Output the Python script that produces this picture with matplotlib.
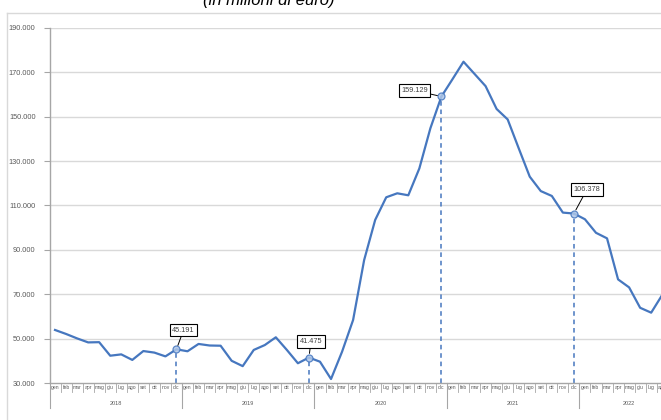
import matplotlib
matplotlib.use("Agg")
import matplotlib.pyplot as plt
import matplotlib.transforms as mtransforms

# monthly values, gen 2018 - set 2022 (millions of euro)
months = ["gen", "feb", "mar", "apr", "mag", "giu", "lug", "ago", "set", "ott", "nov", "dic"]
years = ["2018", "2019", "2020", "2021", "2022"]
values_2018 = [53900, 52100, 50100, 48300, 48400, 42300, 42900, 40400, 44400, 43700, 42000, 45191]
values_2019 = [44300, 47600, 46900, 46800, 40000, 37600, 44900, 47100, 50600, 44900, 38900, 41475]
values_2020 = [39600, 31800, 44100, 58400, 85400, 103500, 113700, 115500, 114600, 126700, 144800, 159129]
values_2021 = [166900, 174800, 169300, 163800, 153500, 148800, 135800, 123000, 116500, 114300, 106800, 106378]
values_2022 = [103800, 97700, 95200, 76700, 73100, 63900, 61700, 69700, 74000]
yticks = [30000, 50000, 70000, 90000, 110000, 130000, 150000, 170000, 190000]

# which points get a callout (index in the series) and box offset in pixels
callout_idx = [11, 23, 35, 47]
callout_offset = [(7, 19), (2, 16), (-27, 6), (13, 24)]

series = values_2018 + values_2019 + values_2020 + values_2021 + values_2022
year_len = [len(values_2018), len(values_2019), len(values_2020), len(values_2021), len(values_2022)]
labels = [months[i % 12] for i in range(len(series))]
xs = [i + 0.5 for i in range(len(series))]

BLUE = "#4677BF"
GRID = "#d9d9d9"
AXIS = "#a6a6a6"
TEXT = "#595959"

plt.rcParams["font.family"] = ["Liberation Sans", "DejaVu Sans"]


def fmt(v):
    return f"{v:,}".replace(",", ".")


fig = plt.figure(figsize=(6.61, 4.2), dpi=100)
W, H = 661, 420

# outer chart border (only left and top visible in the crop)
fig.add_artist(plt.Line2D([7 / W, 7 / W], [0, 1 - 13 / H], color=GRID, lw=1))
fig.add_artist(plt.Line2D([7 / W, 1], [1 - 13 / H, 1 - 13 / H], color=GRID, lw=1))

fig.text(269 / W, 1 - 5 / H, "(in milioni di euro)", ha="center", va="baseline",
         fontsize=12, style="italic", color="black")

ax_left, ax_bottom, ax_top = 49.5, 383, 28
ax_w = len(series) * 11.04
ax = fig.add_axes([ax_left / W, 1 - ax_bottom / H, ax_w / W, (ax_bottom - ax_top) / H])

ax.set_xlim(0, len(series))
ax.set_ylim(30000, 190000)
ax.set_yticks(yticks)
ax.set_yticklabels([fmt(v) for v in yticks])
ax.tick_params(axis="y", length=4, width=0.8, color=AXIS, labelsize=5.3, labelcolor=TEXT, pad=6)
ax.set_xticks([])
for y in yticks[1:]:
    ax.axhline(y, color=GRID, lw=1, zorder=0)
for side in ["top", "right"]:
    ax.spines[side].set_visible(False)
ax.spines["left"].set_color(AXIS)
ax.spines["bottom"].set_color(AXIS)
ax.spines["left"].set_linewidth(1)
ax.spines["bottom"].set_linewidth(1)

ax.plot(xs, series, color=BLUE, lw=1.6, zorder=3)

# callouts with dashed drop lines
for idx, (dx, dy) in zip(callout_idx, callout_offset):
    x, v = xs[idx], series[idx]
    ax.vlines(x, 30000, v, colors=BLUE, linestyles=(0, (3, 2.5)), lw=1.1, zorder=2)
    ax.plot(x, v, "o", ms=5, mfc="#aec6e8", mec=BLUE, mew=0.9, alpha=0.85, zorder=4)
    ax.annotate(fmt(v), (x, v), xytext=(dx, dy), textcoords="offset pixels",
                ha="center", va="center", fontsize=5.3, color="#404040",
                bbox=dict(boxstyle="square,pad=0.35", fc="white", ec="black", lw=0.8),
                arrowprops=dict(arrowstyle="-", color="black", lw=0.7, shrinkA=0, shrinkB=3),
                zorder=5)

# category axis: months row and years row
trans = mtransforms.blended_transform_factory(ax.transData, ax.transAxes)
hpx = ax_bottom - ax_top
month_row = -9 / hpx
year_row = -25 / hpx
for i, lab in enumerate(labels):
    ax.text(xs[i], -4.8 / hpx, lab, transform=trans, ha="center", va="center",
            fontsize=3.6, color=TEXT)
    ax.plot([i, i], [0, month_row], transform=trans, color=AXIS, lw=0.6, clip_on=False)

start = 0
for yr, n in zip(years, year_len):
    ax.plot([start, start], [0, year_row], transform=trans, color=AXIS, lw=0.8, clip_on=False)
    ax.text(start + n / 2, -20.5 / hpx, yr, transform=trans, ha="center", va="center",
            fontsize=4, color=TEXT)
    start += n
ax.plot([start, start], [0, year_row], transform=trans, color=AXIS, lw=0.8, clip_on=False)

fig.savefig("out.png", dpi=100)
